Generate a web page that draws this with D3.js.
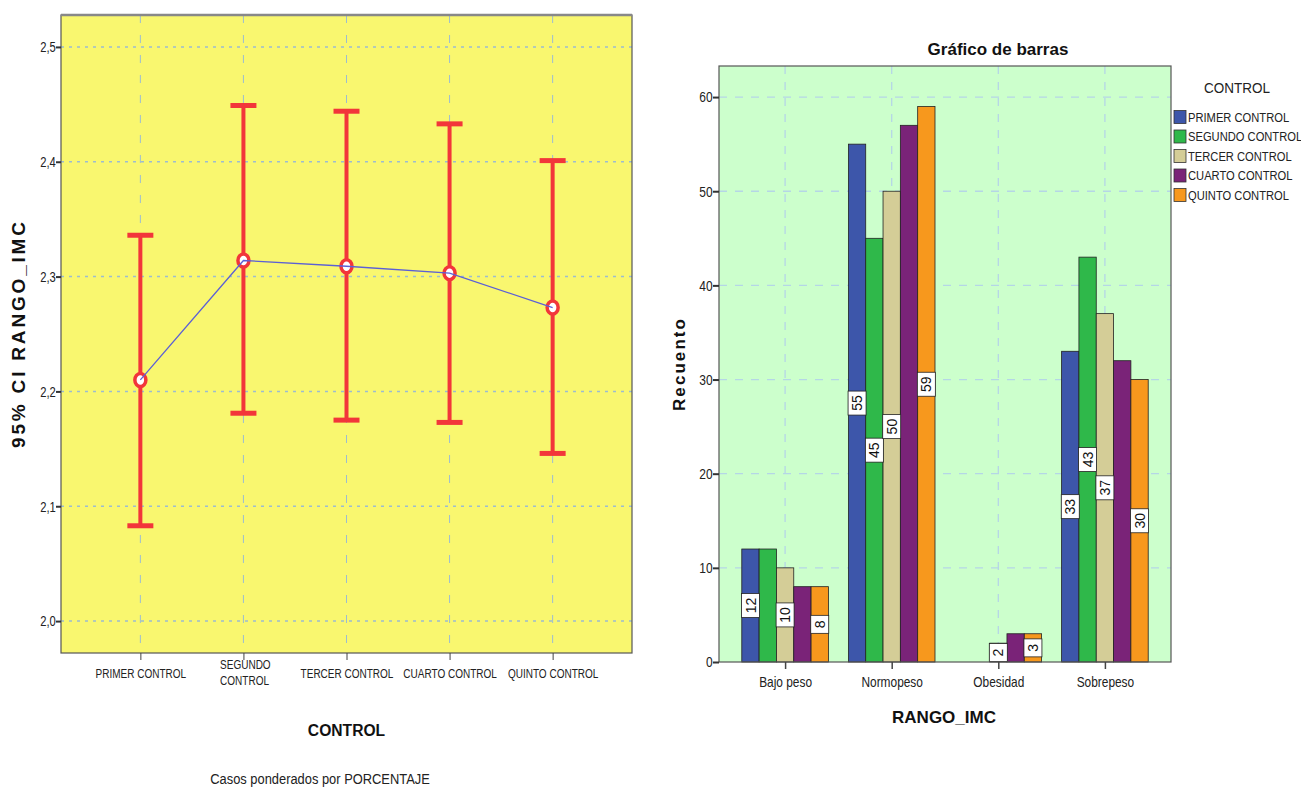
<!DOCTYPE html>
<html>
<head>
<meta charset="utf-8">
<script src="https://cdn.jsdelivr.net/npm/d3@7"></script>
<style>
  body { margin: 0; background: #fff; }
  svg { display: block; }
  text { font-family: "Liberation Sans", Arial, sans-serif; }
  .bold { font-weight: bold; }
</style>
</head>
<body>
<div id="content"></div>
<script>
// left chart: means with 95% CI
let controls = ['PRIMER CONTROL', 'SEGUNDO CONTROL', 'TERCER CONTROL', 'CUARTO CONTROL', 'QUINTO CONTROL'];
let means = [2.210, 2.314, 2.309, 2.303, 2.273];
let ciLow = [2.083, 2.181, 2.175, 2.173, 2.146];
let ciHigh = [2.336, 2.449, 2.444, 2.433, 2.401];
let ciTicks = [2.0, 2.1, 2.2, 2.3, 2.4, 2.5];

// right chart: counts by RANGO_IMC and CONTROL
let rangos = ['Bajo peso', 'Normopeso', 'Obesidad', 'Sobrepeso'];
let primer = [12, 55, 0, 33];
let segundo = [12, 45, 0, 43];
let tercer = [10, 50, 2, 37];
let cuarto = [8, 57, 3, 32];
let quinto = [8, 59, 3, 30];
// which value labels are visible (SPSS hides the overlapping ones)
let labelShown = [
  [true, true, false, true],
  [false, true, false, true],
  [true, true, true, true],
  [false, false, false, false],
  [true, true, true, true]
];
let countTicks = [0, 10, 20, 30, 40, 50, 60];
let barColors = ['#3d56aa', '#2fb84a', '#d4cd97', '#7a2378', '#f7981d'];

// no narrow font installed: squeeze the text horizontally instead
function narrowText(sel, k) {
  sel.attr('transform', `scale(${k},1)`);
}
function label(g, x, y, k) {
  return g.append('text').attr('transform', `translate(${x},${y}) scale(${k},1)`);
}

let svg = d3.select('#content').append('svg')
  .attr('width', 1301)
  .attr('height', 789);

// ---------- LEFT ----------
let L = {left: 61, right: 632, top: 15, bottom: 653};

let x1 = d3.scalePoint()
  .domain(controls)
  .range([L.left, L.right])
  .padding(0.77);

let y1 = d3.scaleLinear()
  .domain([1.9722, 2.5278])
  .range([L.bottom, L.top]);

let left = svg.append('g');

left.append('rect')
  .attr('x', L.left).attr('y', L.top)
  .attr('width', L.right - L.left).attr('height', L.bottom - L.top)
  .attr('fill', '#f9f76f');

// gridlines
left.selectAll('.hgrid').data(ciTicks).join('line')
  .attr('x1', L.left).attr('x2', L.right)
  .attr('y1', d => y1(d)).attr('y2', d => y1(d))
  .attr('stroke', '#9cbcd0').attr('stroke-width', 1.5)
  .attr('stroke-dasharray', '3,5');

left.selectAll('.vgrid').data(controls).join('line')
  .attr('x1', d => x1(d)).attr('x2', d => x1(d))
  .attr('y1', L.top).attr('y2', L.bottom)
  .attr('stroke', '#9cbcd0').attr('stroke-width', 1)
  .attr('stroke-dasharray', '8,12');

// frame
left.append('rect')
  .attr('x', L.left).attr('y', L.top)
  .attr('width', L.right - L.left).attr('height', L.bottom - L.top)
  .attr('fill', 'none').attr('stroke', '#555').attr('stroke-width', 1.2);
left.append('line')
  .attr('x1', L.left).attr('x2', L.right).attr('y1', L.top).attr('y2', L.top)
  .attr('stroke', '#888').attr('stroke-width', 2.5);

// axes
let yAxis1 = left.append('g')
  .attr('transform', `translate(${L.left},0)`)
  .call(d3.axisLeft(y1).tickValues(ciTicks).tickSize(5).tickPadding(2)
    .tickFormat(d => d3.format('.1f')(d).replace('.', ',')));
yAxis1.select('.domain').remove();
yAxis1.selectAll('.tick line').attr('stroke', '#333').attr('stroke-width', 2);
yAxis1.selectAll('text').attr('font-size', 15).attr('fill', '#222').call(narrowText, 0.75);

let xAxis1 = left.append('g')
  .attr('transform', `translate(0,${L.bottom})`)
  .call(d3.axisBottom(x1).tickSize(7).tickPadding(9));
xAxis1.select('.domain').remove();
xAxis1.selectAll('.tick line').attr('stroke', '#444');
xAxis1.selectAll('text').attr('font-size', 13).attr('fill', '#222').call(narrowText, 0.77)
  .each(function(d) {
    if (d === 'SEGUNDO CONTROL') {
      let t = d3.select(this).text(null).attr('text-anchor', 'start');
      t.append('tspan').attr('x', -31).attr('dy', 0).text('SEGUNDO');
      t.append('tspan').attr('x', -31).attr('dy', '1.2em').text('CONTROL');
    }
  });

// error bars
let eb = left.selectAll('.eb').data(controls).join('g');
eb.append('line')
  .attr('x1', d => x1(d)).attr('x2', d => x1(d))
  .attr('y1', (d, i) => y1(ciLow[i])).attr('y2', (d, i) => y1(ciHigh[i]))
  .attr('stroke', '#f2363a').attr('stroke-width', 4);
eb.append('line')
  .attr('x1', d => x1(d) - 13).attr('x2', d => x1(d) + 13)
  .attr('y1', (d, i) => y1(ciLow[i])).attr('y2', (d, i) => y1(ciLow[i]))
  .attr('stroke', '#f2363a').attr('stroke-width', 5);
eb.append('line')
  .attr('x1', d => x1(d) - 13).attr('x2', d => x1(d) + 13)
  .attr('y1', (d, i) => y1(ciHigh[i])).attr('y2', (d, i) => y1(ciHigh[i]))
  .attr('stroke', '#f2363a').attr('stroke-width', 5);
eb.append('ellipse')
  .attr('cx', d => x1(d)).attr('cy', (d, i) => y1(means[i]))
  .attr('rx', 5.5).attr('ry', 6.5)
  .attr('fill', '#fff')
  .attr('stroke', '#f2363a').attr('stroke-width', 3.5);

// mean line
let line1 = d3.line()
  .x((d, i) => x1(controls[i]))
  .y(d => y1(d));
left.append('path')
  .datum(means)
  .attr('d', line1)
  .attr('fill', 'none')
  .attr('stroke', '#5b5fd6')
  .attr('stroke-width', 1.3);

// titles
left.append('text')
  .attr('class', 'bold')
  .attr('transform', `translate(25,${(L.top + L.bottom) / 2 + 1}) rotate(-90)`)
  .attr('text-anchor', 'middle')
  .attr('font-size', 19)
  .attr('textLength', 226)
  .attr('lengthAdjust', 'spacing')
  .attr('fill', '#111')
  .text('95% CI RANGO_IMC');

label(left, x1('TERCER CONTROL'), 736, 0.92)
  .attr('class', 'bold')
  .attr('text-anchor', 'middle')
  .attr('font-size', 17)
  .attr('fill', '#111')
  .text('CONTROL');

label(left, 320, 784, 0.86)
  .attr('text-anchor', 'middle')
  .attr('font-size', 15)
  .attr('fill', '#222')
  .text('Casos ponderados por PORCENTAJE');

// ---------- RIGHT ----------
let R = {left: 719, right: 1171, top: 66, bottom: 662};
let series = [primer, segundo, tercer, cuarto, quinto];

let x2 = d3.scalePoint()
  .domain(rangos)
  .range([R.left, R.right])
  .padding(0.62);

let xs = d3.scaleBand()
  .domain(controls)
  .range([-43.3, 43.3]);

let y2 = d3.scaleLinear()
  .domain([0, 63.3])
  .range([R.bottom, R.top]);

let right = svg.append('g');

right.append('rect')
  .attr('x', R.left).attr('y', R.top)
  .attr('width', R.right - R.left).attr('height', R.bottom - R.top)
  .attr('fill', '#ccffcc');

right.selectAll('.hgrid').data(countTicks.slice(1)).join('line')
  .attr('x1', R.left).attr('x2', R.right)
  .attr('y1', d => y2(d)).attr('y2', d => y2(d))
  .attr('stroke', '#b5d6e6').attr('stroke-width', 1.3)
  .attr('stroke-dasharray', '8,8');

right.selectAll('.vgrid').data(rangos).join('line')
  .attr('x1', d => x2(d)).attr('x2', d => x2(d))
  .attr('y1', R.top).attr('y2', R.bottom)
  .attr('stroke', '#b5d6e6').attr('stroke-width', 1.3)
  .attr('stroke-dasharray', '8,8');

// bars
let groups = right.selectAll('.grp').data(rangos).join('g')
  .attr('transform', d => `translate(${x2(d)},0)`);

controls.forEach((c, k) => {
  groups.filter((d, i) => series[k][i] > 0)
    .append('rect')
    .attr('x', xs(c))
    .attr('width', xs.bandwidth())
    .attr('y', d => y2(series[k][rangos.indexOf(d)]))
    .attr('height', d => y2(0) - y2(series[k][rangos.indexOf(d)]))
    .attr('fill', barColors[k])
    .attr('stroke', '#222')
    .attr('stroke-width', 0.8);
});

// value labels
controls.forEach((c, k) => {
  let val = d => series[k][rangos.indexOf(d)];
  let lab = groups.filter((d, i) => labelShown[k][i] && series[k][i] > 0)
    .append('g')
    .attr('transform', d => `translate(${xs(c) + xs.bandwidth() / 2},${y2(val(d) / 2)})`);
  lab.append('rect')
    .attr('x', -9).attr('y', d => String(val(d)).length > 1 ? -12 : -9)
    .attr('width', 18)
    .attr('height', d => String(val(d)).length > 1 ? 24 : 18)
    .attr('fill', '#fff')
    .attr('stroke', '#222')
    .attr('stroke-width', 0.8);
  lab.append('text')
    .attr('transform', 'rotate(-90)')
    .attr('text-anchor', 'middle')
    .attr('dy', '0.36em')
    .attr('font-size', 14)
    .attr('fill', '#111')
    .text(d => val(d));
});

right.append('rect')
  .attr('x', R.left).attr('y', R.top)
  .attr('width', R.right - R.left).attr('height', R.bottom - R.top)
  .attr('fill', 'none').attr('stroke', '#555').attr('stroke-width', 1.2);

let yAxis2 = right.append('g')
  .attr('transform', `translate(${R.left},0)`)
  .call(d3.axisLeft(y2).tickValues(countTicks).tickSize(6).tickPadding(2));
yAxis2.select('.domain').remove();
yAxis2.selectAll('.tick line').attr('stroke', '#333').attr('stroke-width', 2);
yAxis2.selectAll('text').attr('font-size', 15).attr('fill', '#222').call(narrowText, 0.8);

let xAxis2 = right.append('g')
  .attr('transform', `translate(0,${R.bottom})`)
  .call(d3.axisBottom(x2).tickSize(7).tickPadding(8));
xAxis2.select('.domain').remove();
xAxis2.selectAll('.tick line').attr('stroke', '#444').attr('stroke-width', 1.5);
xAxis2.selectAll('text').attr('font-size', 14).attr('fill', '#222').call(narrowText, 0.85);

right.append('text')
  .attr('class', 'bold')
  .attr('x', 998).attr('y', 55)
  .attr('text-anchor', 'middle')
  .attr('font-size', 17)
  .attr('fill', '#111')
  .text('Gráfico de barras');

right.append('text')
  .attr('class', 'bold')
  .attr('transform', `translate(685,${(R.top + R.bottom) / 2 + 1}) rotate(-90)`)
  .attr('text-anchor', 'middle')
  .attr('font-size', 17)
  .attr('textLength', 92)
  .attr('lengthAdjust', 'spacing')
  .attr('fill', '#111')
  .text('Recuento');

right.append('text')
  .attr('class', 'bold')
  .attr('x', 944).attr('y', 723)
  .attr('text-anchor', 'middle')
  .attr('font-size', 17)
  .attr('fill', '#111')
  .text('RANGO_IMC');

// legend
let legend = right.append('g');
label(legend, 1237, 93, 0.9)
  .attr('text-anchor', 'middle')
  .attr('font-size', 15)
  .attr('fill', '#222')
  .text('CONTROL');
let items = legend.selectAll('.item').data(controls).join('g')
  .attr('transform', (d, i) => `translate(1174,${117 + i * 19.5})`);
items.append('rect')
  .attr('x', 0).attr('y', -6.5)
  .attr('width', 12).attr('height', 13)
  .attr('fill', (d, i) => barColors[i])
  .attr('stroke', '#333').attr('stroke-width', 0.8);
items.append('text')
  .attr('transform', 'translate(14,0) scale(0.86,1)')
  .attr('dy', '0.36em')
  .attr('font-size', 13)
  .attr('fill', '#222')
  .text(d => d);
</script>
</body>
</html>
